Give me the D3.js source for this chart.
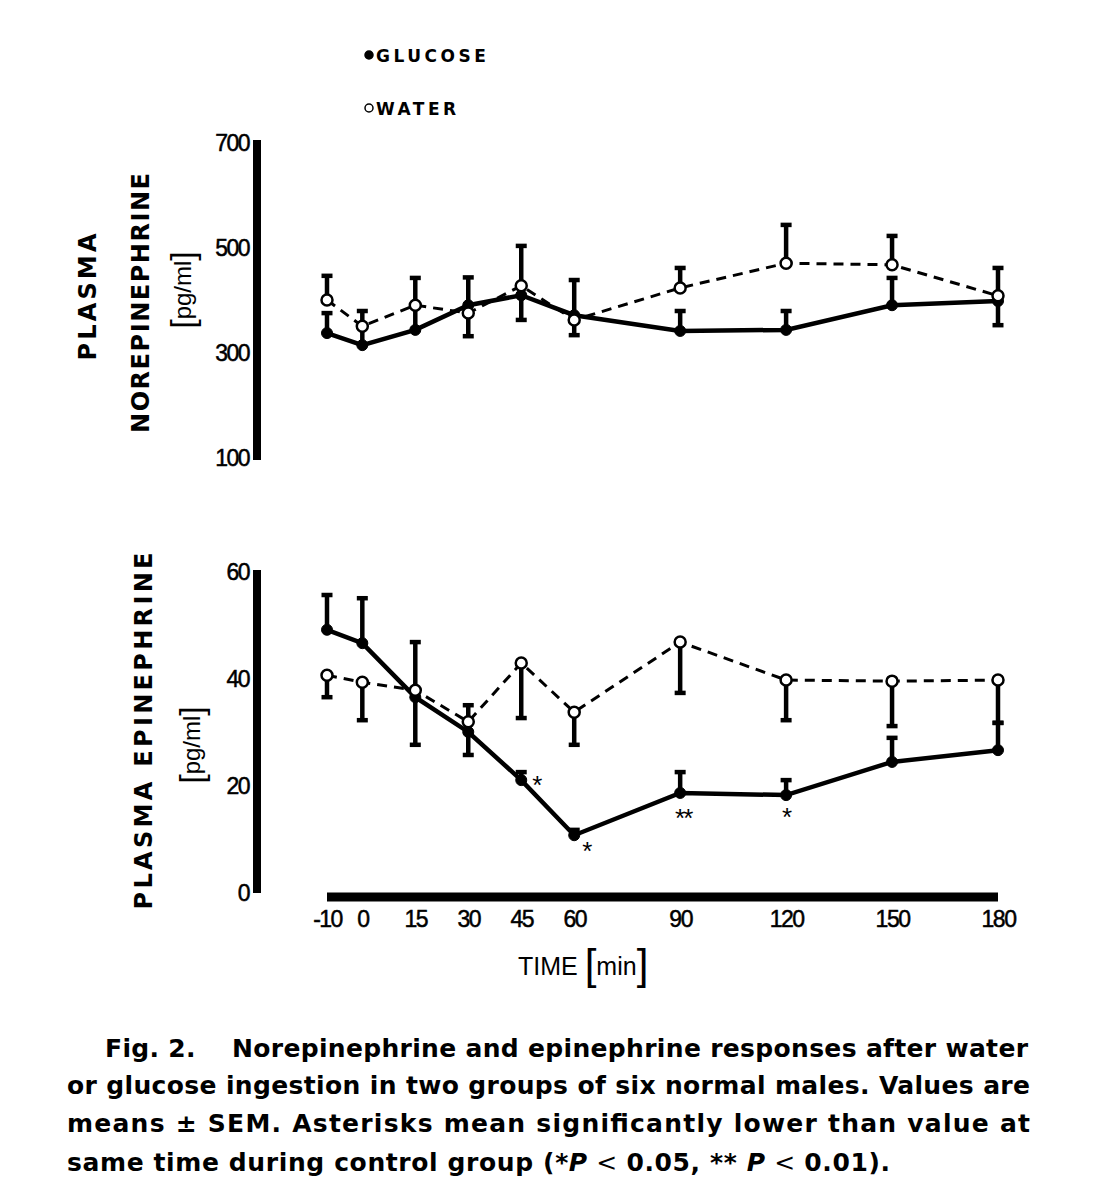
<!DOCTYPE html>
<html>
<head>
<meta charset="utf-8">
<script src="https://cdn.jsdelivr.net/npm/d3@7"></script>
<style>
  html, body { margin: 0; padding: 0; background: #fff; }
  svg { display: block; }
</style>
</head>
<body>
<svg id="chart" width="1105" height="1200"></svg>
<script>
// ---------------- DATA ----------------
const times = [-10, 0, 15, 30, 45, 60, 90, 120, 150, 180];
const timeTicks = [-10, 0, 15, 30, 45, 60, 90, 120, 150, 180];

// Plasma norepinephrine (pg/ml)
const neGlucose    = [338, 315, 344, 391, 410, 372, 342, 344, 391, 399];
const neGlucoseSem = [38, 35, 45, 53, 47, 67, 38, 36, 52, 46];
const neGlucoseDir = [1, 1, 1, 1, -1, 1, 1, 1, 1, -1];
const neWater      = [401, 351, 391, 376, 428, 363, 424, 471, 468, 409];
const neWaterSem   = [46, 29, 52, 44, 76, 29, 38, 73, 55, 53];
const neWaterDir   = [1, 1, 1, -1, 1, -1, 1, 1, 1, 1];
const neTicks = [100, 300, 500, 700];

// Plasma epinephrine (pg/ml)
const epGlucose    = [49.2, 46.7, 36.6, 30.1, 21.1, 10.8, 18.7, 18.3, 24.5, 26.7];
const epGlucoseSem = [6.5, 8.4, 10.3, 4.3, 1.5, 1.0, 3.9, 2.8, 4.5, 5.1];
const epGlucoseDir = [1, 1, 1, -1, 1, 1, 1, 1, 1, 1];
const epWater      = [40.7, 39.4, 37.9, 32.0, 43.0, 33.8, 46.9, 39.8, 39.6, 39.8];
const epWaterSem   = [4.1, 7.1, 10.2, 3.1, 10.3, 6.1, 9.5, 7.5, 8.4, 8.0];
const epWaterDir   = [-1, -1, -1, 1, -1, -1, -1, -1, -1, -1];
const epTicks = [0, 20, 40, 60];

// Significance markers (glucose, epinephrine)
const sigTimes  = [45, 60, 90, 120];
const sigLabels = ["*", "*", "**", "*"];

const legendLabels = ["GLUCOSE", "WATER"];

const captionLines = [
  "Fig. 2.    Norepinephrine and epinephrine responses after water",
  "or glucose ingestion in two groups of six normal males. Values are",
  "means \u00B1 SEM. Asterisks mean significantly lower than value at"
];

// ---------------- DRAW ----------------
const svg = d3.select("#chart");
const FONT = "'Liberation Sans', Arial, Helvetica, sans-serif";
const CAPFONT = "'DejaVu Sans', 'Liberation Sans', sans-serif";

const x = d3.scaleLinear().domain([-10, 180]).range([327, 998]);
const yNE = d3.scaleLinear().domain([100, 700]).range([458, 143]);
const yEP = d3.scaleLinear().domain([0, 60]).range([893, 572]);

const axisX0 = 257;

function yAxis(scale, ticks) {
  const g = svg.append("g")
    .attr("transform", `translate(${axisX0},0)`)
    .call(d3.axisLeft(scale).tickValues(ticks).tickSize(0).tickSizeOuter(0).tickPadding(8));
  g.select(".domain").attr("stroke", "#000").attr("stroke-width", 8);
  g.selectAll("text")
    .attr("font-family", FONT)
    .attr("font-size", 23)
    .attr("letter-spacing", -1.5)
    .attr("stroke", "#000").attr("stroke-width", 0.5)
    .attr("fill", "#000");
  return g;
}
const gNE = yAxis(yNE, neTicks);
gNE.select(".domain").attr("d", `M0,${yNE(700) - 3}V${yNE(100) + 2}`);
const gEP = yAxis(yEP, epTicks);
gEP.select(".domain").attr("d", `M0,${yEP(60) - 2}V${yEP(0)}`);

// X axis
const gx = svg.append("g")
  .attr("transform", `translate(0,${yEP(0) + 4})`)
  .call(d3.axisBottom(x).tickValues(timeTicks).tickSize(0).tickSizeOuter(0).tickPadding(14)
        .tickFormat(d => d < 0 ? "-" + Math.abs(d) : String(d)));
gx.select(".domain").attr("stroke", "#000").attr("stroke-width", 9)
  .attr("d", `M${x(-10)},0H${x(180)}`);
gx.selectAll("text")
  .attr("font-family", FONT)
  .attr("font-size", 23)
  .attr("letter-spacing", -1.5)
  .attr("stroke", "#000").attr("stroke-width", 0.5)
  .attr("fill", "#000");

function drawSeries(scale, vals, sem, dir, filled) {
  const g = svg.append("g");
  const pts = times.map((t, i) => ({ t, v: vals[i], s: sem[i], d: dir[i] }));
  const line = d3.line().x(d => x(d.t)).y(d => scale(d.v));
  const eb = g.selectAll("g.eb").data(pts).enter().append("g");
  eb.append("line")
    .attr("x1", d => x(d.t)).attr("x2", d => x(d.t))
    .attr("y1", d => scale(d.v)).attr("y2", d => scale(d.v + d.d * d.s))
    .attr("stroke", "#000").attr("stroke-width", 4.5);
  eb.append("line")
    .attr("x1", d => x(d.t) - 5.5).attr("x2", d => x(d.t) + 5.5)
    .attr("y1", d => scale(d.v + d.d * d.s)).attr("y2", d => scale(d.v + d.d * d.s))
    .attr("stroke", "#000").attr("stroke-width", 4.5);
  g.append("path").datum(pts)
    .attr("d", line)
    .attr("fill", "none")
    .attr("stroke", "#000")
    .attr("stroke-width", filled ? 4.5 : 3)
    .attr("stroke-dasharray", filled ? null : "10,7");
  return { g, pts };
}
function drawMarkers(scale, vals, filled) {
  svg.append("g").selectAll("circle").data(times.map((t, i) => ({ t, v: vals[i] })))
    .enter().append("circle")
    .attr("cx", d => x(d.t)).attr("cy", d => scale(d.v))
    .attr("r", 5.5)
    .attr("fill", filled ? "#000" : "#fff")
    .attr("stroke", "#000")
    .attr("stroke-width", filled ? 1 : 2.5);
}

// Norepinephrine panel
drawSeries(yNE, neWater, neWaterSem, neWaterDir, false);
drawSeries(yNE, neGlucose, neGlucoseSem, neGlucoseDir, true);
drawMarkers(yNE, neGlucose, true);
drawMarkers(yNE, neWater, false);

// Epinephrine panel
drawSeries(yEP, epWater, epWaterSem, epWaterDir, false);
drawSeries(yEP, epGlucose, epGlucoseSem, epGlucoseDir, true);
drawMarkers(yEP, epGlucose, true);
drawMarkers(yEP, epWater, false);

// significance asterisks
const sigOffsets = [[15, 14], [12, 25], [3, 34], [0, 31]];
sigTimes.forEach((t, i) => {
  const v = epGlucose[times.indexOf(t)];
  svg.append("text")
    .attr("x", x(t) + sigOffsets[i][0])
    .attr("y", yEP(v) + sigOffsets[i][1])
    .attr("text-anchor", "middle")
    .attr("font-family", FONT)
    .attr("font-size", 26)
    .attr("letter-spacing", -2)
    .attr("fill", "#000")
    .text(sigLabels[i]);
});

// Legend
const legY = [55, 108];
legendLabels.forEach((lab, i) => {
  svg.append("circle")
    .attr("cx", 369).attr("cy", legY[i])
    .attr("r", 4)
    .attr("fill", i === 0 ? "#000" : "#fff")
    .attr("stroke", "#000").attr("stroke-width", 1.5);
  svg.append("text")
    .attr("x", 376).attr("y", legY[i] + 6.5)
    .attr("font-family", CAPFONT)
    .attr("font-weight", "bold")
    .attr("font-size", 17)
    .attr("letter-spacing", 3.5)
    .attr("fill", "#000")
    .text(lab);
});

// Y axis titles
function vText(cx, cy, txt, opts) {
  const t = svg.append("text")
    .attr("transform", `translate(${cx},${cy}) rotate(-90)`)
    .attr("text-anchor", "middle")
    .attr("dominant-baseline", "central")
    .attr("font-family", opts.font || FONT)
    .attr("fill", "#000")
    .attr("font-size", opts.size)
    .attr("font-weight", opts.bold ? "bold" : "normal")
    .attr("letter-spacing", opts.ls || 0);
  if (opts.len) t.attr("textLength", opts.len).attr("lengthAdjust", "spacing");
  t.text(txt);
  return t;
}
vText(88, 297, "PLASMA", { size: 24, bold: true, len: 127, font: CAPFONT });
vText(141, 303, "NOREPINEPHRINE", { size: 24, bold: true, len: 260, font: CAPFONT });
function unitText(cx, cy) {
  const t = svg.append("text")
    .attr("transform", `translate(${cx},${cy}) rotate(-90)`)
    .attr("text-anchor", "middle")
    .attr("dominant-baseline", "central")
    .attr("font-family", FONT)
    .attr("fill", "#000")
    .attr("font-size", 24);
  t.append("tspan").attr("font-size", 34).text("[");
  t.append("tspan").text("pg/ml");
  t.append("tspan").attr("font-size", 34).text("]");
}
unitText(182, 290);
vText(144, 731, "PLASMA   EPINEPHRINE", { size: 24, bold: true, len: 357, font: CAPFONT });
unitText(191, 745);

// X title
const xt = svg.append("text")
  .attr("x", 518).attr("y", 975)
  .attr("font-family", FONT)
  .attr("font-size", 25)
  .attr("fill", "#000");
xt.append("tspan").text("TIME  ");
xt.append("tspan").attr("font-size", 42).attr("dy", 4).text("[");
xt.append("tspan").attr("font-size", 25).attr("dy", -4).text("min");
xt.append("tspan").attr("font-size", 42).attr("dy", 4).text("]");

// Caption
const capSize = 25;
const capBase = [1057, 1094, 1132, 1171];
const capX = [105, 67, 67];
const capEnd = [1028, 1030, 1030];
captionLines.forEach((line, i) => {
  svg.append("text")
    .attr("x", capX[i]).attr("y", capBase[i])
    .attr("font-family", CAPFONT)
    .attr("font-weight", "bold")
    .attr("font-size", capSize)
    .attr("fill", "#000")
    .attr("textLength", capEnd[i] - capX[i])
    .attr("lengthAdjust", "spacing")
    .attr("xml:space", "preserve")
    .style("white-space", "pre")
    .text(line);
});
const last = svg.append("text")
  .attr("x", 67).attr("y", capBase[3])
  .attr("font-family", CAPFONT)
  .attr("font-weight", "bold")
  .attr("font-size", capSize)
  .attr("fill", "#000")
  .attr("textLength", 823)
  .attr("lengthAdjust", "spacing");
last.append("tspan").text("same time during control group (*");
last.append("tspan").attr("font-style", "italic").text("P");
last.append("tspan").attr("font-weight", "normal").text(" < ");
last.append("tspan").text("0.05, ** ");
last.append("tspan").attr("font-style", "italic").text("P");
last.append("tspan").attr("font-weight", "normal").text(" < ");
last.append("tspan").text("0.01).");
</script>
</body>
</html>
